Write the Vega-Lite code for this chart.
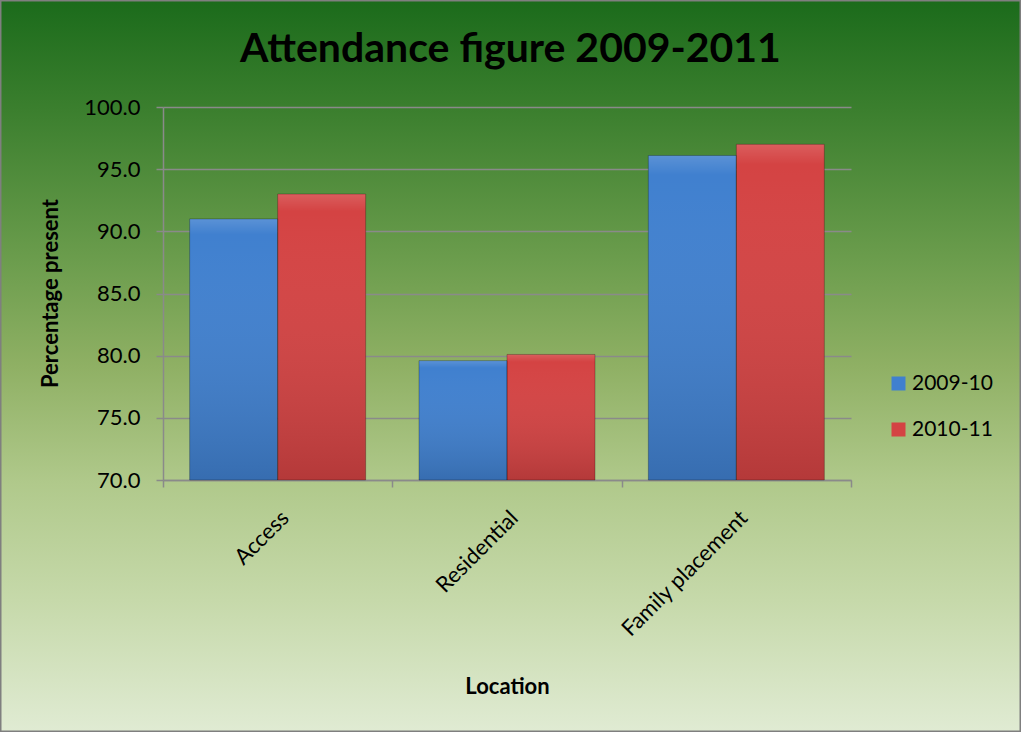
{
  "$schema": "https://vega.github.io/schema/vega-lite/v6.json",
  "autosize": "none",
  "width": 1021,
  "height": 732,
  "padding": 0,
  "background": "#e0ebd3",
  "title": {"text": "Attendance figure 2009-2011", "font": "Lato", "fontSize": 41, "fontWeight": "bold", "color": "#000000", "orient": "top", "anchor": "middle", "frame": "group", "offset": -71},
  "data": {"values": [
    {"location": "Access", "year": "2009-10", "value": 91.0},
    {"location": "Access", "year": "2010-11", "value": 93.0},
    {"location": "Residential", "year": "2009-10", "value": 79.6},
    {"location": "Residential", "year": "2010-11", "value": 80.1},
    {"location": "Family placement", "year": "2009-10", "value": 96.1},
    {"location": "Family placement", "year": "2010-11", "value": 97.0}
  ]},
  "encoding": {
    "x": {"field": "location", "type": "nominal", "sort": ["Access", "Residential", "Family placement"],
      "scale": {"paddingInner": 0, "paddingOuter": 0, "range": [163, 851]},
      "axis": {"title": "Location", "labelAngle": -45, "tickBand": "extent", "labelPadding": 20, "offset": -252, "titleY": 206, "titleBaseline": "middle"}},
    "xOffset": {"field": "year", "type": "nominal", "scale": {"paddingInner": 0, "paddingOuter": 0.303}},
    "y": {"field": "value", "type": "quantitative",
      "scale": {"domain": [70, 100], "nice": false, "zero": false, "range": [480, 107]},
      "axis": {"title": "Percentage present", "values": [70, 75, 80, 85, 90, 95, 100], "format": ".1f", "labelPadding": 16, "offset": -163, "titleX": -113, "titleY": 293, "titleAlign": "center", "titleBaseline": "middle", "titleAngle": -90}},
    "y2": {"datum": 70}
  },
  "layer": [
    {
      "mark": {"type": "bar"},
      "encoding": {
        "color": {"field": "year", "type": "nominal",
          "scale": {"domain": ["2009-10", "2010-11"], "range": ["#4080cf", "#d44343"]},
          "legend": {"title": null, "orient": "none", "legendX": 888, "legendY": 373, "symbolType": "square", "symbolSize": 196, "labelFontSize": 21, "labelFont": "Lato", "rowPadding": 24, "symbolStrokeWidth": 0, "labelColor": "#000000", "labelOffset": 3}}
      }
    },
    {
      "mark": {"type": "bar", "fill": {"gradient": "linear", "x1": 0, "y1": 0, "x2": 0, "y2": 1, "stops": [{"offset": 0, "color": "rgba(255,255,255,0.14)"}, {"offset": 0.06, "color": "rgba(255,255,255,0.0)"}, {"offset": 1, "color": "rgba(0,0,0,0.15)"}]}, "stroke": "rgba(0,0,0,0.25)", "strokeWidth": 1}
    }
  ],
  "config": {
    "view": {"stroke": "#7f7f7f", "strokeWidth": 3, "fill": {"gradient": "linear", "x1": 0, "y1": 0, "x2": 0, "y2": 1, "stops": [{"offset": 0, "color": "#1b6b1b"}, {"offset": 0.15, "color": "#3b7f2e"}, {"offset": 0.35, "color": "#6a9c4c"}, {"offset": 0.5, "color": "#8fb064"}, {"offset": 0.66, "color": "#b0c98b"}, {"offset": 0.82, "color": "#c6d9aa"}, {"offset": 1, "color": "#e0ebd3"}]}},
    "axis": {"labelFont": "Lato", "labelFontSize": 22, "labelColor": "#000000", "titleFont": "Lato", "titleFontSize": 22, "titleFontWeight": "bold", "titleColor": "#000000", "domainColor": "#8a8a8a", "domainWidth": 1.5, "tickColor": "#8a8a8a", "tickWidth": 1.5, "tickSize": 7, "gridColor": "#8a8a8a", "gridWidth": 1.5},
    "axisX": {"grid": false},
    "axisY": {"grid": true}
  }
}
